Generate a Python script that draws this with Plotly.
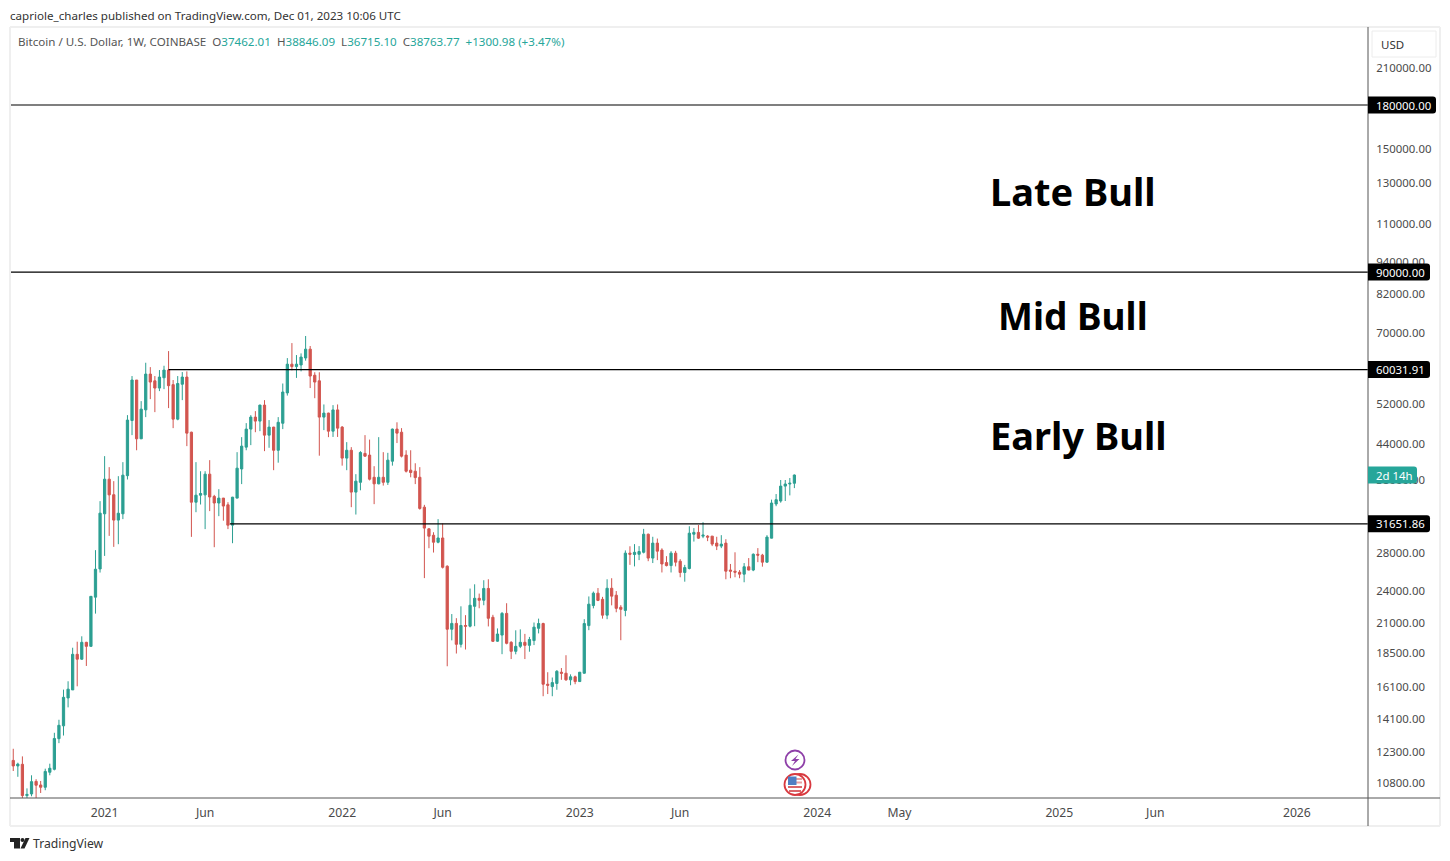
import math
import pandas as pd
import plotly.graph_objects as go

# weekly candles, first one is the week of 2020-08-17
week_start = pd.date_range("2020-08-17", periods=172, freq="7D")

opens = [
    11860, 11590, 11670, 10250, 10320, 10870, 10710, 10610, 11290, 11430,
    12980, 13690, 15370, 15890, 18420, 18050, 19360, 19040, 23350, 26250,
    33000, 38100, 35720, 32150, 33000, 38660, 48600, 57490, 45050, 50800,
    58930, 57300, 55610, 58040, 59920, 56400, 48880, 56500, 58200, 46300,
    34630, 35650, 35700, 38900, 35470, 34510, 35220, 34250, 31480, 35220,
    39750, 43520, 46900, 49290, 48480, 51810, 45740, 47290, 42960, 48050,
    54500, 61400, 60790, 61200, 63000, 65350, 58650, 57300, 49290, 50120,
    46500, 50790, 47290, 41580, 42960, 36110, 37610, 42400, 42100, 38400,
    37370, 38400, 37610, 41050, 46900, 46300, 42100, 39550, 39380, 38400,
    33920, 31000, 30190, 29330, 29850, 26550, 20440, 20940, 19200, 20760,
    20700, 22480, 23240, 23050, 24210, 21480, 19450, 19950, 21830, 19360,
    18650, 19040, 19360, 19120, 19500, 20520, 20930, 16270, 16110, 16320,
    17100, 17030, 16570, 16780, 16450, 17030, 20750, 22550, 23740, 23140,
    21670, 24230, 23540, 22390, 22100, 28030, 27870, 27900, 28130, 30320,
    27460, 29220, 28390, 26950, 26620, 28030, 27110, 25870, 26300, 30320,
    30550, 30080, 30080, 30080, 29220, 28860, 29220, 26130, 26010, 25900,
    25690, 26490, 26130, 27900, 27800, 27000, 29830, 34370, 34800, 37020,
    37340, 37462.01,
]
highs = [
    12447, 11748, 12060, 10560, 11150, 10970, 10890, 11460, 11700, 13300,
    14040, 15910, 16470, 18930, 19410, 19850, 19400, 23450, 28380, 34780,
    41920, 40050, 37790, 38580, 40890, 49700, 58450, 57500, 52670, 61770,
    60660, 58450, 59920, 61000, 64830, 57490, 58450, 59420, 59600, 46400,
    40890, 39380, 39380, 41230, 35700, 36550, 35250, 34630, 35400, 42620,
    45360, 48080, 49700, 50530, 51900, 52890, 48690, 47350, 49290, 56670,
    62970, 67020, 63770, 64210, 69020, 66210, 59380, 59380, 51950, 50200,
    51810, 51950, 47500, 44430, 43520, 38900, 42800, 45740, 44900, 40210,
    45360, 42620, 42500, 47000, 48240, 47090, 42960, 42960, 40700, 40050,
    34250, 31100, 30570, 32280, 31700, 26650, 21770, 21400, 22480, 21670,
    24200, 24630, 23700, 25050, 25150, 21700, 20510, 21950, 22770, 19450,
    20350, 20430, 20050, 19800, 21020, 21360, 21000, 17100, 16730, 17250,
    17400, 18350, 16950, 16860, 17120, 21310, 23420, 23900, 24250, 23380,
    25150, 25260, 23950, 22590, 28350, 28840, 29100, 28860, 31000, 30400,
    30000, 29780, 28600, 27680, 28260, 28300, 27340, 26700, 31340, 31100,
    31500, 31870, 30200, 30100, 30000, 30200, 29700, 26800, 28130, 26130,
    26900, 27460, 28000, 28620, 27950, 30200, 35000, 35820, 37970, 37970,
    38280, 38846.09,
]
lows = [
    11350, 11080, 9880, 9820, 10220, 10130, 10360, 10480, 11150, 11380,
    12740, 13150, 14780, 15890, 16130, 18000, 17550, 19000, 21810, 25860,
    27710, 30110, 28770, 29090, 32280, 38050, 45740, 42960, 45000, 49290,
    53110, 50320, 54910, 55360, 51170, 47090, 48650, 52890, 43700, 29990,
    33220, 34300, 30970, 33370, 28730, 32680, 32070, 30970, 29210, 35200,
    37330, 42960, 43880, 46300, 46500, 42800, 43400, 39550, 40800, 46900,
    53900, 59850, 58000, 59600, 62300, 55610, 53320, 42000, 46700, 45360,
    45400, 45400, 40300, 39550, 33920, 32900, 36380, 41800, 37900, 34350,
    37300, 37100, 37200, 40300, 44260, 41700, 39170, 38400, 37330, 33570,
    25270, 28610, 28100, 29200, 26300, 17530, 19520, 18480, 18950, 18790,
    20600, 20700, 22300, 22580, 20680, 19400, 19400, 18430, 19200, 18060,
    18420, 18900, 18060, 18620, 19140, 20090, 15480, 15620, 15480, 15900,
    16570, 16500, 16200, 16270, 16430, 17000, 20360, 22290, 22970, 21360,
    21310, 22570, 21930, 19530, 21570, 26700, 26530, 27230, 28000, 27110,
    26900, 27230, 25870, 26530, 25870, 26530, 25360, 24900, 26200, 29410,
    29730, 29830, 29460, 28860, 28390, 28620, 25150, 25260, 25360, 25260,
    24840, 26100, 26010, 27000, 26500, 26950, 29800, 34060, 34560, 34800,
    35620, 36715.10,
]
closes = [
    11590, 11680, 10250, 10300, 10860, 10700, 10610, 11330, 11480, 12990,
    13720, 15410, 15940, 18420, 18050, 19360, 19040, 23430, 26220, 33090,
    38100, 35700, 32150, 33080, 38740, 48690, 57490, 45050, 50950, 58930,
    57010, 55610, 58200, 59920, 56160, 48880, 56670, 58200, 46120, 34630,
    35650, 35900, 38900, 35380, 34510, 35220, 34080, 31480, 35360, 39880,
    43700, 46900, 49290, 48480, 51810, 45740, 47290, 42960, 48240, 54700,
    61400, 60790, 61400, 63240, 65350, 58450, 57010, 49290, 50120, 46500,
    50790, 47090, 41580, 42960, 36110, 37790, 42560, 41920, 38100, 37370,
    38400, 37610, 41230, 46900, 46120, 41920, 39380, 39170, 38350, 33740,
    31100, 30070, 29330, 29850, 26430, 20440, 20940, 19200, 20760, 20700,
    22580, 23240, 23050, 24210, 21390, 19440, 20040, 21830, 19280, 18650,
    19040, 19360, 19120, 19590, 20620, 20930, 16270, 16200, 16380, 17170,
    17030, 16570, 16780, 16450, 17100, 20930, 22680, 23740, 23040, 21670,
    24230, 23450, 22290, 22200, 28030, 27900, 28130, 28220, 30320, 27460,
    29220, 28260, 26800, 26620, 28030, 27000, 25870, 26400, 30450, 30550,
    29830, 30200, 29960, 29100, 28860, 29100, 26010, 26010, 25900, 25690,
    26490, 26130, 27900, 27800, 27000, 29960, 34510, 34990, 37020, 37340,
    37460, 38763.77,
]

# horizontal levels: value, where the line starts
levels = [180000.00, 90000.00, 60031.91, 31651.86]
level_starts = ["2020-08-12", "2020-08-12", "2021-04-12", "2021-07-15"]
level_labels = ["180000.00", "90000.00", "60031.91", "31651.86"]

price_ticks = [210000, 150000, 130000, 110000, 94000, 82000, 70000, 52000,
               44000, 38000, 28000, 24000, 21000, 18500, 16100, 14100, 12300, 10800]

date_ticks = ["2021-01-04", "2021-06-07", "2022-01-03", "2022-06-06", "2023-01-02",
              "2023-06-05", "2024-01-01", "2024-05-06", "2025-01-06", "2025-06-02",
              "2026-01-05"]
date_labels = ["2021", "Jun", "2022", "Jun", "2023", "Jun", "2024", "May", "2025", "Jun", "2026"]

phase_names = ["Late Bull", "Mid Bull", "Early Bull"]
phase_prices = [125900, 75280, 45760]
phase_centers = [1072.5, 1073, 1078.5]
phase_sizes = [38, 37, 38]

UP = "#2c9f92"
DOWN = "#d2554f"
AXIS_TEXT = "#4a4a4a"
FONT = "Noto Sans"

X_RANGE = ["2020-08-12", "2026-04-24"]
Y_RANGE = [math.log10(10147), math.log10(248800)]


# page pixels -> paper coordinates, for the furniture around the plot
def px(x):
    return (x - 10) / 1358


def py(y):
    return (798 - y) / 771


def price_paper(value):
    return (math.log10(value) - Y_RANGE[0]) / (Y_RANGE[1] - Y_RANGE[0])


fig = go.Figure()

fig.add_trace(go.Candlestick(
    x=week_start,
    open=opens,
    high=highs,
    low=lows,
    close=closes,
    increasing=dict(line=dict(color=UP, width=1), fillcolor=UP),
    decreasing=dict(line=dict(color=DOWN, width=1), fillcolor=DOWN),
    whiskerwidth=0,
    showlegend=False,
))

for value, start in zip(levels, level_starts):
    fig.add_trace(go.Scatter(
        x=[start, X_RANGE[1]],
        y=[value, value],
        mode="lines",
        line=dict(color="black", width=1.2),
        showlegend=False,
        hoverinfo="skip",
    ))

shapes = []


def add_line(x0, y0, x1, y1, color, width):
    shapes.append(dict(type="line", xref="paper", yref="paper", layer="above",
                       x0=px(x0), y0=py(y0), x1=px(x1), y1=py(y1),
                       line=dict(color=color, width=width)))


def add_circle(cx, cy, r, line_color, fill="rgba(0,0,0,0)", width=1.8):
    shapes.append(dict(type="circle", xref="paper", yref="paper", layer="above",
                       x0=px(cx - r), x1=px(cx + r), y0=py(cy + r), y1=py(cy - r),
                       fillcolor=fill, line=dict(color=line_color, width=width)))


def add_rect(x0, y0, x1, y1, fill):
    shapes.append(dict(type="rect", xref="paper", yref="paper", layer="above",
                       x0=px(x0), x1=px(x1), y0=py(y1), y1=py(y0),
                       fillcolor=fill, line=dict(width=0)))


def add_poly(points, fill):
    path = "M " + " L ".join("%f %f" % (px(x), py(y)) for x, y in points) + " Z"
    shapes.append(dict(type="path", xref="paper", yref="paper", layer="above",
                       path=path, fillcolor=fill, line=dict(width=0)))


# axis tag: square on the axis side, rounded on the right
def add_tag(x1, y_mid, fill):
    r = 3
    top = y_mid - 8.5
    bot = y_mid + 8.5
    x0 = 1368
    path = "M %f %f L %f %f Q %f %f %f %f L %f %f Q %f %f %f %f L %f %f Z" % (
        px(x0), py(top), px(x1 - r), py(top), px(x1), py(top), px(x1), py(top + r),
        px(x1), py(bot - r), px(x1), py(bot), px(x1 - r), py(bot), px(x0), py(bot))
    shapes.append(dict(type="path", xref="paper", yref="paper", layer="above",
                       path=path, fillcolor=fill, line=dict(width=0)))


def paper_to_page(p):
    return 798 - p * 771


# outer frame and the two axis lines
add_line(10, 27, 1440, 27, "#efefef", 2)
add_line(10, 27, 10, 826, "#efefef", 2)
add_line(1440, 27, 1440, 826, "#efefef", 2)
add_line(10, 826, 1440, 826, "#efefef", 2)
add_line(10, 798, 1440, 798, "#555555", 1)
add_line(1368, 27, 1368, 826, "#555555", 1)

# USD box
shapes.append(dict(type="rect", xref="paper", yref="paper", layer="above",
                   x0=px(1372), x1=px(1436), y0=py(57), y1=py(31),
                   line=dict(color="#ececec", width=1)))

# event badges under the last candle
add_circle(795, 760, 9.5, "#8e3fa8", "white")
add_poly([(798.5, 754.5), (791, 761), (795, 761), (792, 766), (799.5, 759), (795.5, 759)], "#8e3fa8")
add_circle(800, 784.5, 10.5, "#d8393f", "white")
add_circle(795, 784.5, 10.5, "#d8393f", "white")
add_rect(788, 786, 802, 788, "#d9666a")
add_rect(789, 790, 801, 792, "#d9666a")
add_rect(788, 778, 802, 780, "#e8a0a2")
add_rect(788, 781.5, 802, 783.5, "#e8a0a2")
add_rect(788, 776.5, 796.5, 785, "#4f7fc4")

# TradingView logo
add_rect(10, 838, 20, 842, "#222222")
add_rect(14, 842, 20, 848.5, "#222222")
add_circle(22.5, 840, 2, "#222222", "#222222", 0)
add_poly([(25.5, 838), (29.5, 838), (24.5, 848.5), (20.5, 848.5)], "#222222")

# axis tags, text goes on top as annotations below
tag_ends = [1436, 1430, 1430, 1430]
for value, end in zip(levels, tag_ends):
    add_tag(end, paper_to_page(price_paper(value)), "black")
add_tag(1417, paper_to_page(price_paper(closes[-1])), "#26a69a")

annotations = [
    dict(text="capriole_charles published on TradingView.com, Dec 01, 2023 10:06 UTC",
         x=px(8), y=py(15), font=dict(size=11.6, color="#333333"), xanchor="left"),
    dict(text="Bitcoin / U.S. Dollar, 1W, COINBASE  O<span style='color:#26a69a'>37462.01</span>"
              "  H<span style='color:#26a69a'>38846.09</span>"
              "  L<span style='color:#26a69a'>36715.10</span>"
              "  C<span style='color:#26a69a'>38763.77</span>"
              "  <span style='color:#26a69a'>+1300.98 (+3.47%)</span>",
         x=px(16), y=py(41), font=dict(size=11.6, color="#555555"), xanchor="left"),
    dict(text="USD", x=px(1392), y=py(44), font=dict(size=11.5, color="#333333"), xanchor="center"),
    dict(text="TradingView", x=px(31), y=py(843), font=dict(size=12.2, color="#333333"), xanchor="left"),
]

fig.update_layout(
    # the page body has an 8px margin, so the figure sits 8px in from the corner
    width=1434,
    height=845,
    margin=dict(l=2, r=74, t=19, b=55),
    paper_bgcolor="white",
    plot_bgcolor="white",
    font=dict(family=FONT, size=12, color=AXIS_TEXT),
    showlegend=False,
    shapes=shapes,
    xaxis=dict(
        type="date",
        range=X_RANGE,
        rangeslider=dict(visible=False),
        showgrid=False,
        zeroline=False,
        tickmode="array",
        tickvals=date_ticks,
        ticktext=date_labels,
        ticks="outside",
        ticklen=3,
        tickcolor="rgba(0,0,0,0)",
        tickfont=dict(size=12.2, color=AXIS_TEXT),
    ),
    yaxis=dict(
        type="log",
        range=Y_RANGE,
        side="right",
        showgrid=False,
        zeroline=False,
        tickmode="array",
        tickvals=price_ticks,
        ticktext=["%.2f" % v for v in price_ticks],
        ticks="outside",
        ticklen=5,
        tickcolor="rgba(0,0,0,0)",
        tickfont=dict(size=11.4, color=AXIS_TEXT),
    ),
)

for a in annotations:
    fig.add_annotation(xref="paper", yref="paper", showarrow=False, yanchor="middle", **a)

for value, label in zip(levels, level_labels):
    fig.add_annotation(
        xref="paper", yref="y", x=px(1375), y=math.log10(value),
        text=label, showarrow=False, xanchor="left", yanchor="middle",
        borderpad=0, font=dict(size=11.4, color="white"),
    )

# countdown tag, sits on the last close
fig.add_annotation(
    xref="paper", yref="y", x=px(1375), y=math.log10(closes[-1]),
    text="2d 14h", showarrow=False, xanchor="left", yanchor="middle",
    borderpad=0, font=dict(size=11.4, color="white"),
)

for name, price, center, size in zip(phase_names, phase_prices, phase_centers, phase_sizes):
    fig.add_annotation(
        xref="paper", yref="y", x=px(center), y=math.log10(price),
        text=name, showarrow=False, xanchor="center", yanchor="middle",
        font=dict(size=size, color="black", family=FONT, weight="bold"),
    )

fig.write_html("out.html")
